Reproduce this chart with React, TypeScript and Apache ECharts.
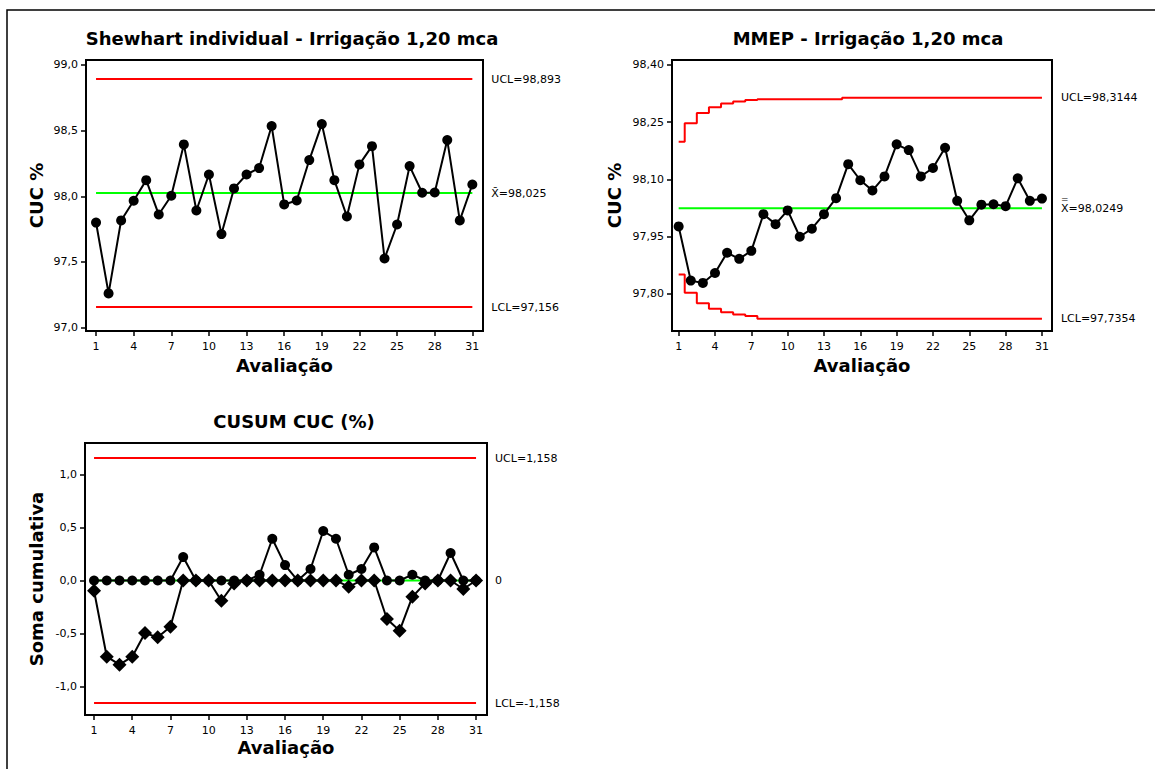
import React, { useEffect, useRef } from "react";
import * as echarts from "echarts";

// ---------- data ----------
const evaluations = [1, 2, 3, 4, 5, 6, 7, 8, 9, 10, 11, 12, 13, 14, 15, 16, 17, 18, 19, 20, 21, 22, 23, 24, 25, 26, 27, 28, 29, 30, 31];
const xTicks = [1, 4, 7, 10, 13, 16, 19, 22, 25, 28, 31];

// Shewhart individual chart
const shewhartValues = [97.8, 97.26, 97.816, 97.966, 98.123, 97.861, 98.004, 98.395, 97.892, 98.166, 97.712, 98.06, 98.166, 98.215, 98.535, 97.938, 97.968, 98.276, 98.55, 98.123, 97.846, 98.243, 98.382, 97.526, 97.785, 98.23, 98.027, 98.029, 98.428, 97.816, 98.09];
const shewhartUCL = 98.893;
const shewhartMean = 98.025;
const shewhartLCL = 97.156;
const shewhartYTicks = [97.0, 97.5, 98.0, 98.5, 99.0];

// MMEP (EWMA) chart
const ewmaValues = [97.977, 97.835, 97.829, 97.855, 97.908, 97.892, 97.913, 98.009, 97.983, 98.019, 97.95, 97.971, 98.009, 98.051, 98.14, 98.098, 98.071, 98.108, 98.192, 98.177, 98.108, 98.13, 98.183, 98.044, 97.993, 98.034, 98.035, 98.03, 98.103, 98.044, 98.05];
const ewmaUCL = [98.199, 98.247, 98.274, 98.289, 98.299, 98.304, 98.308, 98.31, 98.31, 98.31, 98.31, 98.31, 98.31, 98.31, 98.3144, 98.3144, 98.3144, 98.3144, 98.3144, 98.3144, 98.3144, 98.3144, 98.3144, 98.3144, 98.3144, 98.3144, 98.3144, 98.3144, 98.3144, 98.3144, 98.3144];
const ewmaLCL = [97.851, 97.803, 97.776, 97.761, 97.752, 97.746, 97.742, 97.7354, 97.7354, 97.7354, 97.7354, 97.7354, 97.7354, 97.7354, 97.7354, 97.7354, 97.7354, 97.7354, 97.7354, 97.7354, 97.7354, 97.7354, 97.7354, 97.7354, 97.7354, 97.7354, 97.7354, 97.7354, 97.7354, 97.7354, 97.7354];
const ewmaMean = 98.0249;
const ewmaYTicks = [97.8, 97.95, 98.1, 98.25, 98.4];

// CUSUM chart
const cusumUpper = [0, 0, 0, 0, 0, 0, 0, 0.222, 0, 0, 0, 0, 0, 0.055, 0.395, 0.146, 0, 0.109, 0.468, 0.395, 0.055, 0.109, 0.313, 0, 0, 0.055, 0, 0, 0.26, 0, 0];
const cusumLower = [-0.096, -0.72, -0.795, -0.72, -0.496, -0.537, -0.436, 0, 0, 0, -0.191, -0.027, 0, 0, 0, 0, 0, 0, 0, 0, -0.058, 0, 0, -0.364, -0.474, -0.153, -0.027, 0, 0, -0.08, 0];
const cusumUCL = 1.158;
const cusumLCL = -1.158;
const cusumCenter = 0;
const cusumYTicks = [-1.0, -0.5, 0.0, 0.5, 1.0];

// ---------- helpers ----------
const FONT = '"DejaVu Sans", Tahoma, Verdana, sans-serif';
const RED = "#ff0000";
const GREEN = "#00ff00";
const comma = (v: number, d: number) => v.toFixed(d).replace(".", ",");
const pairs = (ys: number[]) => evaluations.map((x, i) => [x, ys[i]]);
const flat = (y: number) => [[evaluations[0], y], [evaluations[evaluations.length - 1], y]];

function xAxisFor(gridIndex: number, min: number, max: number, nameGap: number) {
  return {
    type: "value",
    gridIndex,
    min,
    max,
    name: "Avaliação",
    nameLocation: "middle",
    nameGap,
    nameTextStyle: { fontFamily: FONT, fontWeight: "bold", fontSize: 18, color: "#000" },
    axisLine: { show: true, onZero: false, lineStyle: { color: "#000", width: 2 } },
    axisTick: { show: true, customValues: xTicks, length: 5, lineStyle: { color: "#000", width: 1.5 } },
    axisLabel: { show: true, customValues: xTicks, fontFamily: FONT, fontSize: 11, color: "#000", margin: 10, formatter: (v: number) => String(v) },
    splitLine: { show: false },
  };
}

function yAxisFor(gridIndex: number, min: number, max: number, ticks: number[], dec: number, name: string, nameGap: number) {
  return {
    type: "value",
    gridIndex,
    min,
    max,
    name,
    nameLocation: "middle",
    nameGap,
    nameTextStyle: { fontFamily: FONT, fontWeight: "bold", fontSize: 18, color: "#000" },
    axisLine: { show: true, onZero: false, lineStyle: { color: "#000", width: 2 } },
    axisTick: { show: true, customValues: ticks, length: 5, lineStyle: { color: "#000", width: 1.5 } },
    axisLabel: { show: true, customValues: ticks, fontFamily: FONT, fontSize: 11, color: "#000", margin: 8, formatter: (v: number) => comma(v, dec) },
    splitLine: { show: false },
  };
}

function limitLine(idx: number, data: any[], color: string, label: any, step?: string) {
  return {
    type: "line",
    xAxisIndex: idx,
    yAxisIndex: idx,
    data,
    step: step || false,
    symbol: "none",
    silent: true,
    z: 2,
    lineStyle: { color, width: 2 },
    endLabel: { show: true, distance: 19, fontFamily: FONT, fontSize: 11, color: "#000", ...label },
  };
}

function dataLine(idx: number, data: any[], symbol: string, size: number) {
  return {
    type: "line",
    xAxisIndex: idx,
    yAxisIndex: idx,
    data,
    symbol,
    symbolSize: size,
    showSymbol: true,
    z: 5,
    lineStyle: { color: "#000", width: 2 },
    itemStyle: { color: "#000", borderColor: "#000", borderWidth: 0 },
  };
}

function titleText(text: string, x: number, y: number) {
  return {
    type: "text",
    x,
    y,
    silent: true,
    style: {
      text,
      font: `bold 18px ${FONT}`,
      fill: "#000",
      align: "center",
      verticalAlign: "middle",
      textAlign: "center",
      textVerticalAlign: "middle",
    },
  };
}

export default function App() {
  const ref = useRef<HTMLDivElement>(null);

  useEffect(() => {
    if (!ref.current) return;
    const chart = echarts.init(ref.current, undefined, { renderer: "svg" });
    const option: any = {
      animation: false,
      backgroundColor: "#fff",
      textStyle: { fontFamily: FONT },
      grid: [
        { left: 86, top: 60, width: 397, height: 271, show: true, borderColor: "#000", borderWidth: 2, backgroundColor: "transparent" },
        { left: 672, top: 60, width: 380, height: 271, show: true, borderColor: "#000", borderWidth: 2, backgroundColor: "transparent" },
        { left: 85, top: 443, width: 402, height: 272, show: true, borderColor: "#000", borderWidth: 2, backgroundColor: "transparent" },
      ],
      xAxis: [
        xAxisFor(0, 0.2, 31.85, 25),
        xAxisFor(1, 0.45, 31.83, 25),
        xAxisFor(2, 0.29, 31.86, 23),
      ],
      yAxis: [
        yAxisFor(0, 96.974, 99.038, shewhartYTicks, 1, "CUC %", 41),
        yAxisFor(1, 97.703, 98.413, ewmaYTicks, 2, "CUC %", 49),
        yAxisFor(2, -1.271, 1.3, cusumYTicks, 1, "Soma cumulativa", 40),
      ],
      graphic: [
        {
          type: "rect",
          silent: true,
          shape: { x: 7, y: 10, width: 1200, height: 800 },
          style: { fill: "none", stroke: "#000", lineWidth: 1.5 },
        },
        titleText("Shewhart individual - Irrigação 1,20 mca", 292, 38),
        titleText("MMEP - Irrigação 1,20 mca", 868, 38),
        titleText("CUSUM CUC (%)", 294, 421),
      ],
      series: [
        // Shewhart
        limitLine(0, flat(shewhartUCL), RED, { formatter: () => `UCL=${comma(shewhartUCL, 3)}` }),
        limitLine(0, flat(shewhartLCL), RED, { formatter: () => `LCL=${comma(shewhartLCL, 3)}` }),
        limitLine(0, flat(shewhartMean), GREEN, { formatter: () => `X\u0304=${comma(shewhartMean, 3)}` }),
        dataLine(0, pairs(shewhartValues), "circle", 10),
        // MMEP
        limitLine(1, pairs(ewmaUCL), RED, { formatter: () => `UCL=${comma(ewmaUCL[ewmaUCL.length - 1], 4)}` }, "middle"),
        limitLine(1, pairs(ewmaLCL), RED, { formatter: () => `LCL=${comma(ewmaLCL[ewmaLCL.length - 1], 4)}` }, "middle"),
        limitLine(1, flat(ewmaMean), GREEN, {
          formatter: () => `{bar|=}\n{txt|X=${comma(ewmaMean, 4)}}`,
          offset: [0, -3],
          rich: {
            bar: { fontFamily: FONT, fontSize: 9, lineHeight: 7, color: "#000", align: "left" },
            txt: { fontFamily: FONT, fontSize: 11, lineHeight: 12, color: "#000", align: "left" },
          },
        }),
        dataLine(1, pairs(ewmaValues), "circle", 10),
        // CUSUM
        limitLine(2, flat(cusumUCL), RED, { formatter: () => `UCL=${comma(cusumUCL, 3)}` }),
        limitLine(2, flat(cusumLCL), RED, { formatter: () => `LCL=${comma(cusumLCL, 3)}` }),
        limitLine(2, flat(cusumCenter), GREEN, { formatter: () => `${cusumCenter}` }),
        dataLine(2, pairs(cusumUpper), "circle", 10),
        dataLine(2, pairs(cusumLower), "diamond", 14),
      ],
    };
    chart.setOption(option);
    return () => chart.dispose();
  }, []);

  return (
    <div
      ref={ref}
      style={{ position: "fixed", left: 0, top: 0, width: 1155, height: 769, background: "#fff" }}
    />
  );
}
